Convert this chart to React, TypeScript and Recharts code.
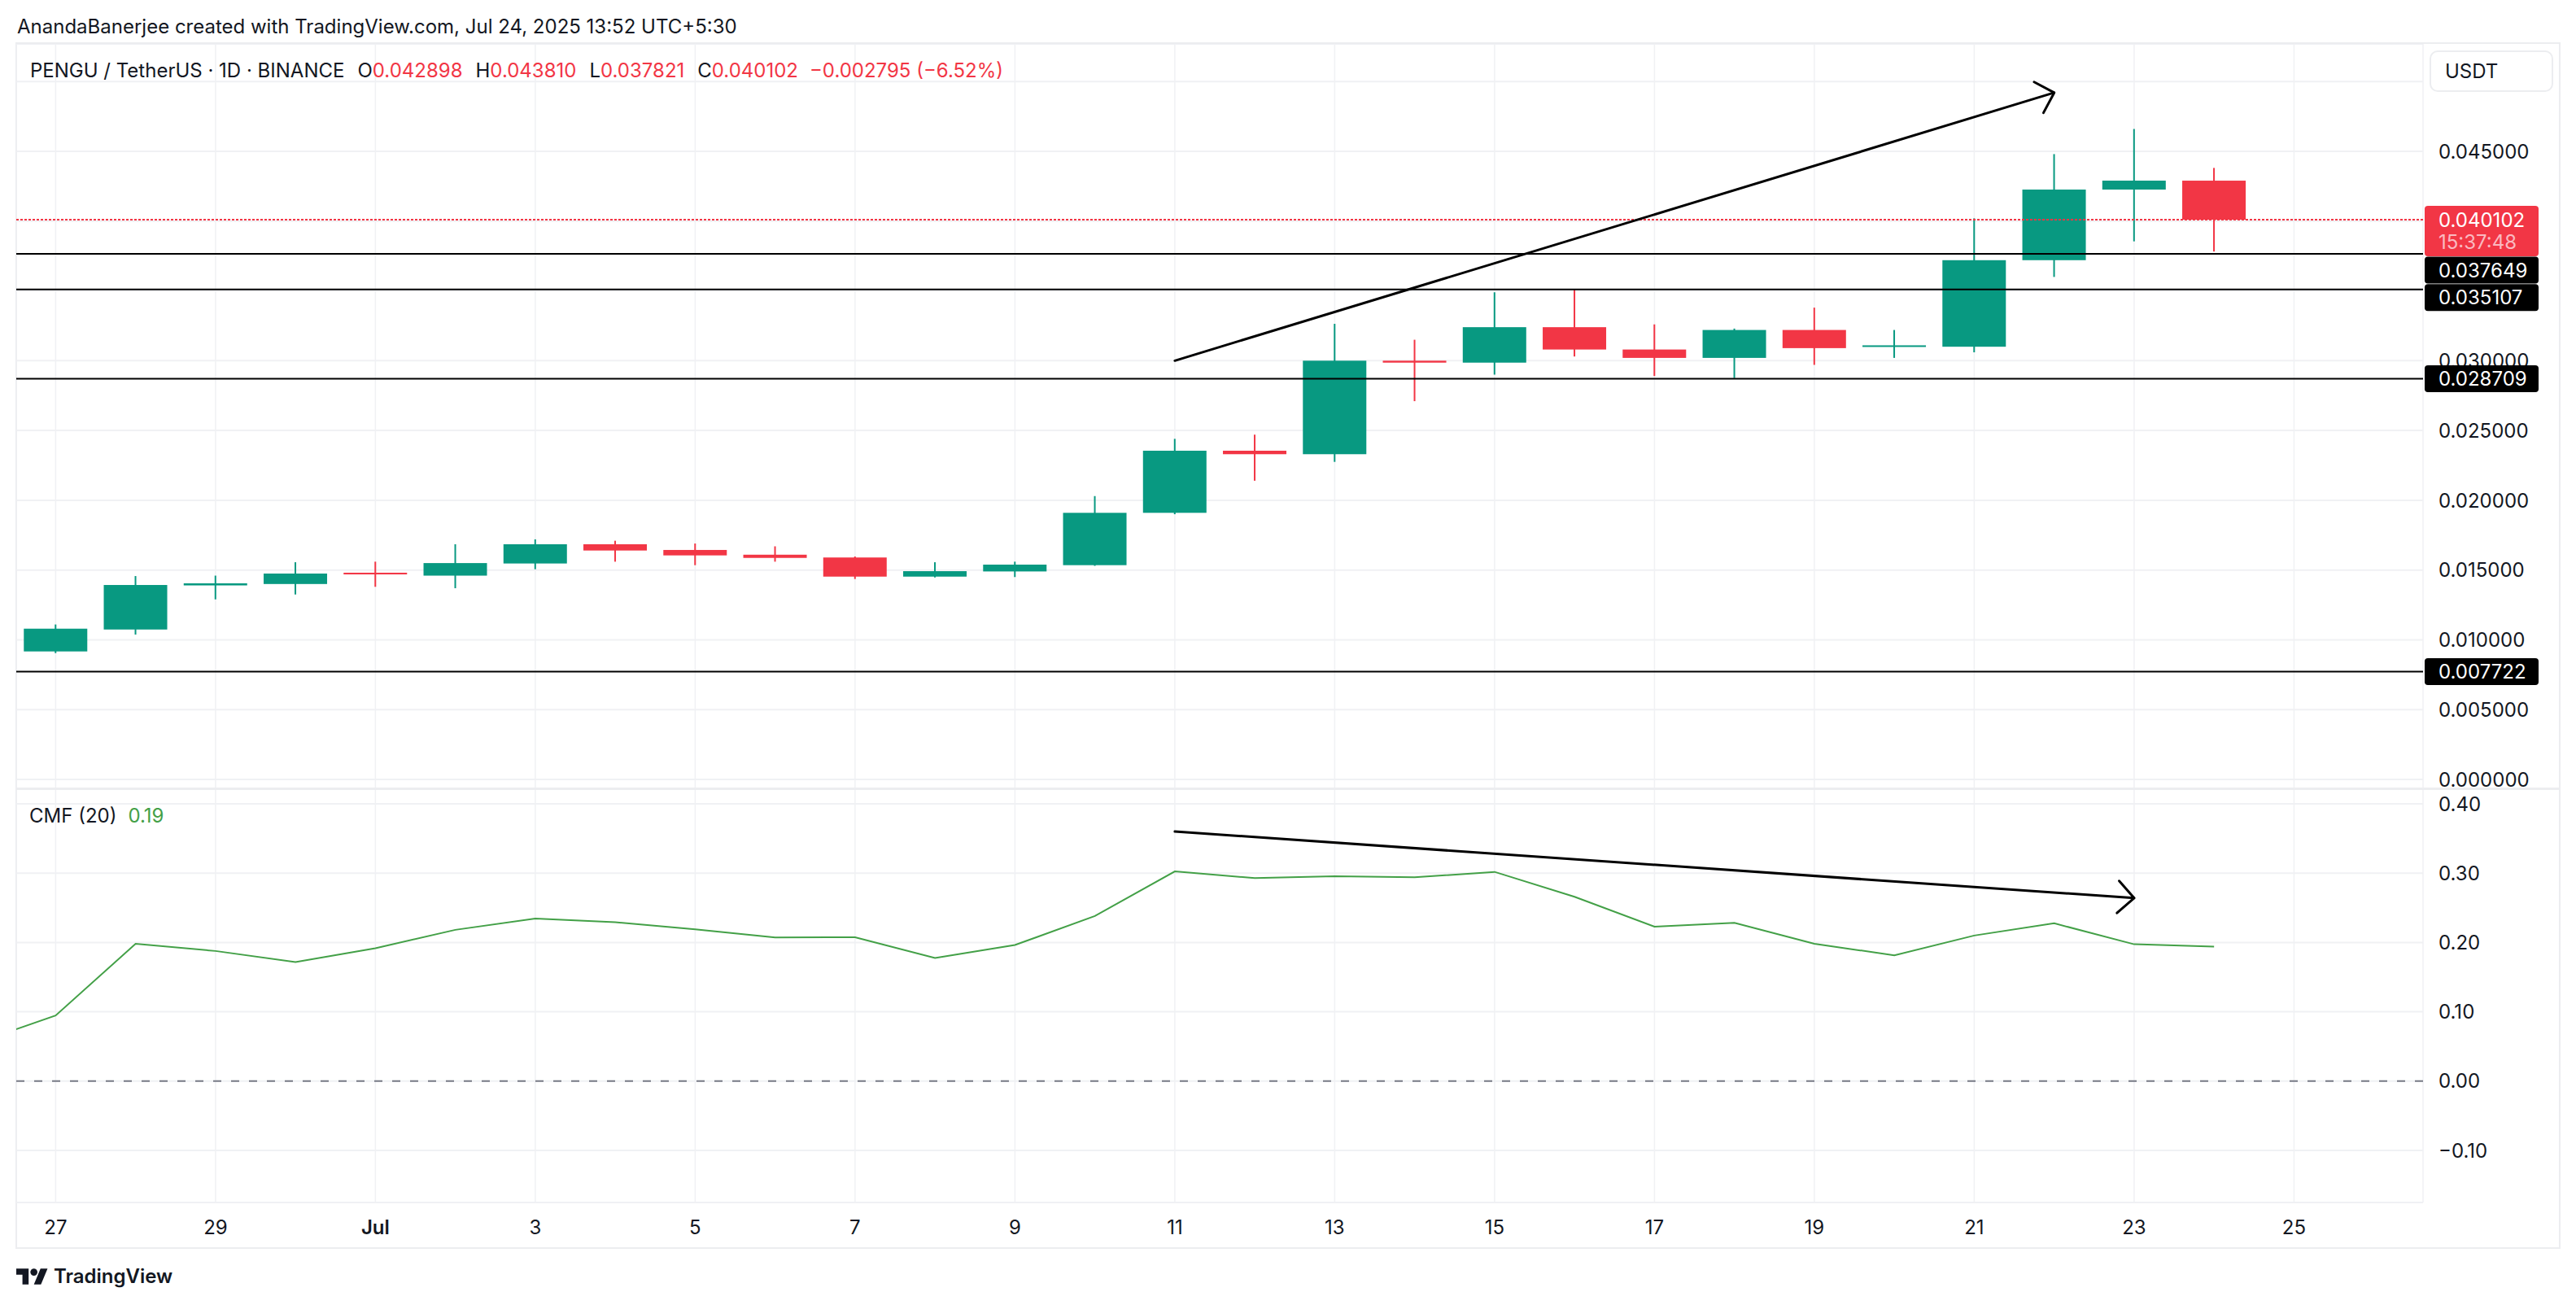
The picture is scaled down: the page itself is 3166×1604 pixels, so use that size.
import React from 'react';
import { ComposedChart, Bar, Line, XAxis, YAxis, CartesianGrid, ReferenceLine } from 'recharts';

// ---------------- data ----------------
const dates = ['Jun 26','Jun 27','Jun 28','Jun 29','Jun 30','Jul 1','Jul 2','Jul 3','Jul 4','Jul 5','Jul 6','Jul 7','Jul 8','Jul 9','Jul 10','Jul 11','Jul 12','Jul 13','Jul 14','Jul 15','Jul 16','Jul 17','Jul 18','Jul 19','Jul 20','Jul 21','Jul 22','Jul 23','Jul 24'];
const opens = [null, 0.00917, 0.01074, 0.0139, 0.0140, 0.01481, 0.0146, 0.01547, 0.01685, 0.01644, 0.0161, 0.0159, 0.01453, 0.0149, 0.01535, 0.0191, 0.02355, 0.0233, 0.0300, 0.02986, 0.0324, 0.0308, 0.0302, 0.0322, 0.0310, 0.0310, 0.0372, 0.04226, 0.042898];
const highs = [null, 0.0111, 0.01457, 0.0146, 0.01556, 0.0156, 0.01685, 0.0172, 0.0171, 0.0169, 0.0167, 0.01597, 0.01556, 0.0156, 0.0203, 0.0244, 0.0247, 0.03264, 0.0315, 0.0349, 0.0351, 0.0326, 0.0323, 0.0338, 0.0322, 0.0402, 0.0448, 0.0466, 0.04381];
const lows = [null, 0.00905, 0.01038, 0.0129, 0.01325, 0.0138, 0.0137, 0.01506, 0.0156, 0.01535, 0.0156, 0.01436, 0.01447, 0.0145, 0.0153, 0.0190, 0.0214, 0.02275, 0.0271, 0.0290, 0.0303, 0.0289, 0.02875, 0.0297, 0.0302, 0.0306, 0.0360, 0.03855, 0.037821];
const closes = [null, 0.0108, 0.01393, 0.01405, 0.01475, 0.01469, 0.0155, 0.01685, 0.0164, 0.01605, 0.01587, 0.01453, 0.01492, 0.01539, 0.0191, 0.02355, 0.0233, 0.0300, 0.02986, 0.0324, 0.0308, 0.0302, 0.0322, 0.0309, 0.0311, 0.0372, 0.04226, 0.0429, 0.040102];
const cmfValues = [0.0545, 0.0946, 0.198, 0.1877, 0.1717, 0.1916, 0.2182, 0.2346, 0.2291, 0.219, 0.2072, 0.2076, 0.1775, 0.1963, 0.2381, 0.3025, 0.2929, 0.2956, 0.294, 0.3018, 0.2659, 0.2229, 0.2284, 0.1982, 0.1814, 0.21, 0.2276, 0.1974, 0.1939];

const priceTicks = [0, 0.005, 0.01, 0.015, 0.02, 0.025, 0.03, 0.035, 0.04, 0.045, 0.05];
// tick labels hidden behind the price tags / currency box in the original
const coveredPriceTicks = [0.035, 0.04, 0.05];
const cmfTicks = [-0.1, 0, 0.1, 0.2, 0.3, 0.4];
const timeTicks = [0, 2, 4, 6, 8, 10, 12, 14, 16, 18, 20, 22, 24, 26, 28];
const timeLabels = ['27', '29', 'Jul', '3', '5', '7', '9', '11', '13', '15', '17', '19', '21', '23', '25'];
const monthLabels = ['Jul'];

const levelValues = [0.037649, 0.035107, 0.028709, 0.007722];
const lastPrice = 0.040102;
const countdown = '15:37:48';
const priceArrow = [{ x: 14, y: 0.0300 }, { x: 25, y: 0.0492 }];
const cmfArrow = [{ x: 14, y: 0.360 }, { x: 26, y: 0.264 }];

const titleText = 'AnandaBanerjee created with TradingView.com, Jul 24, 2025 13:52 UTC+5:30';
const symbolText = 'PENGU / TetherUS · 1D · BINANCE';
const ohlcLabels = ['O', 'H', 'L', 'C'];
const ohlcValues = ['0.042898', '0.043810', '0.037821', '0.040102'];
const changeText = '\u22120.002795 (\u22126.52%)';
const cmfName = 'CMF (20)';
const cmfLast = '0.19';

const tableData = dates.map((d, i) => ({
  date: d,
  day: i - 1,
  open: opens[i],
  high: highs[i],
  low: lows[i],
  close: closes[i],
  range: highs[i] == null ? null : [lows[i], highs[i]],
  cmf: cmfValues[i],
}));

// ---------------- style ----------------
const FONT = 'Inter, "Noto Sans", sans-serif';
const TEXT = '#131722';
const GREEN = '#089981';
const RED = '#F23645';
const CMF_COLOR = '#43A047';
const GRID = '#F0F1F4';
const FRAME = '#ECEDF0';
const FS = 24;

const X_DOMAIN = [-0.4926, 29.614];
const PRICE_DOMAIN = [-0.000699, 0.052693];
const CMF_DOMAIN = [-0.1751, 0.4211];
const tagNudge: Record<string, number> = { '0.037649': 20, '0.035107': 10 };

const fmtPrice = (v: number) => v.toFixed(6);
const fmtCmf = (v: number) => (v < 0 ? '\u2212' + Math.abs(v).toFixed(2) : v.toFixed(2));

const Candle = (props: any) => {
  const { x, y, width, height, payload } = props;
  if (!payload || payload.open == null) return null;
  const { open, close, high, low } = payload;
  const span = high - low;
  const k = span > 0 ? height / span : 0;
  const py = (v: number) => y + (high - v) * k;
  const color = close >= open ? GREEN : RED;
  const cx = x + width / 2;
  const top = py(Math.max(open, close));
  const bot = py(Math.min(open, close));
  const bh = Math.max(bot - top, 2);
  return (
    <g>
      <rect x={cx - 1} y={y} width={2} height={Math.max(height, 1)} fill={color} />
      <rect x={x} y={top} width={width} height={bh} fill={color} />
    </g>
  );
};

const makeYTick = (fmt: (v: number) => string, hidden: number[] = []) => (props: any) => {
  const { x, y, payload } = props;
  if (hidden.some((h) => Math.abs(h - payload.value) < 1e-9)) return <g />;
  return (
    <text x={x} y={y} dy="0.36em" textAnchor="start" fontSize={FS} fill={TEXT} fontFamily={FONT}>
      {fmt(payload.value)}
    </text>
  );
};

const XTick = (props: any) => {
  const { x, y, payload } = props;
  const idx = timeTicks.indexOf(payload.value);
  const label = idx >= 0 ? timeLabels[idx] : '';
  const bold = monthLabels.includes(label);
  return (
    <text x={x} y={y + 30} dy="0.36em" textAnchor="middle" fontSize={FS} fill={TEXT} fontFamily={FONT} fontWeight={bold ? 600 : 400}>
      {label}
    </text>
  );
};

const Arrow = (props: any) => {
  const { x1, y1, x2, y2 } = props;
  if ([x1, y1, x2, y2].some((v) => v == null || isNaN(v))) return null;
  const ang = Math.atan2(y2 - y1, x2 - x1);
  const L = 28;
  const s = Math.PI / 4;
  const a1 = ang + Math.PI - s;
  const a2 = ang + Math.PI + s;
  return (
    <g>
      <line x1={x1} y1={y1} x2={x2} y2={y2} stroke="#000" strokeWidth={3} strokeLinecap="round" />
      <polyline
        points={`${x2 + L * Math.cos(a1)},${y2 + L * Math.sin(a1)} ${x2},${y2} ${x2 + L * Math.cos(a2)},${y2 + L * Math.sin(a2)}`}
        fill="none" stroke="#000" strokeWidth={3} strokeLinecap="round" strokeLinejoin="round"
      />
    </g>
  );
};

const LevelTag = (value: number) => (props: any) => {
  const vb = props.viewBox || {};
  const x = vb.x + vb.width + 2;
  const cy = vb.y + (tagNudge[fmtPrice(value)] || 0);
  return (
    <g>
      <rect x={x} y={cy - 16.5} width={140} height={33} rx={4} fill="#000" />
      <text x={x + 17} y={cy} dy="0.36em" fontSize={FS} fill="#fff" fontFamily={FONT}>{fmtPrice(value)}</text>
    </g>
  );
};

const LastTag = (props: any) => {
  const vb = props.viewBox || {};
  const x = vb.x + vb.width + 2;
  const ly = vb.y;
  return (
    <g>
      <rect x={x} y={ly - 17} width={140} height={62} rx={4} fill={RED} />
      <text x={x + 17} y={ly} dy="0.36em" fontSize={FS} fill="#fff" fontFamily={FONT}>{fmtPrice(lastPrice)}</text>
      <text x={x + 17} y={ly + 27} dy="0.36em" fontSize={FS} fill="#FAB9C0" fontFamily={FONT}>{countdown}</text>
    </g>
  );
};

const abs = (l: number, t: number, extra: React.CSSProperties = {}): React.CSSProperties => ({ position: 'absolute', left: l, top: t, ...extra });
const chartMargin = { top: 0, right: 0, bottom: 0, left: 0 };

export default function App() {
  return (
    <div style={{ position: 'absolute', left: 0, top: 0, width: 3166, height: 1604, background: '#fff', fontFamily: FONT, color: TEXT, overflow: 'hidden' }}>
      <div style={abs(21, 18, { fontSize: FS, lineHeight: '30px', whiteSpace: 'nowrap' })}>{titleText}</div>

      <div style={abs(19, 52, { width: 3128, height: 1483, border: `2px solid ${FRAME}`, boxSizing: 'border-box' })} />

      {/* price pane: grid, axis, candles */}
      <div style={abs(20, 54)}>
        <ComposedChart width={3126} height={916} data={tableData} margin={chartMargin}>
          <CartesianGrid stroke={GRID} strokeWidth={2} vertical={false} />
          <CartesianGrid stroke={GRID} strokeWidth={1.5} horizontal={false} />
          <XAxis type="number" dataKey="day" domain={X_DOMAIN} allowDataOverflow ticks={timeTicks} hide />
          <YAxis orientation="right" width={168} domain={PRICE_DOMAIN} allowDataOverflow ticks={priceTicks} interval={0}
            tickSize={0} tickMargin={19} axisLine={false} tickLine={false} tick={makeYTick(fmtPrice, coveredPriceTicks)} />
          <Bar dataKey="range" barSize={78} isAnimationActive={false} shape={(p: any) => <Candle {...p} />} />
        </ComposedChart>
      </div>

      {/* price pane overlay: levels, last price, trend arrow */}
      <div style={abs(20, 54, { pointerEvents: 'none' })}>
        <ComposedChart width={3126} height={916} data={tableData} margin={chartMargin}>
          <XAxis type="number" dataKey="day" domain={X_DOMAIN} allowDataOverflow ticks={timeTicks} hide />
          <YAxis orientation="right" width={168} domain={PRICE_DOMAIN} allowDataOverflow ticks={priceTicks}
            axisLine={false} tickLine={false} tick={false} />
          <ReferenceLine y={lastPrice} stroke={RED} strokeWidth={2} strokeDasharray="3 2" label={LastTag} />
          {levelValues.map((v) => (
            <ReferenceLine key={v} y={v} stroke="#000" strokeWidth={2} label={LevelTag(v)} />
          ))}
          <ReferenceLine segment={priceArrow} shape={(p: any) => <Arrow {...p} />} />
        </ComposedChart>
      </div>

      {/* CMF pane */}
      <div style={abs(20, 970)}>
        <ComposedChart width={3126} height={564} data={tableData} margin={chartMargin}>
          <CartesianGrid stroke={GRID} strokeWidth={2} vertical={false} />
          <CartesianGrid stroke={GRID} strokeWidth={1.5} horizontal={false} />
          <XAxis type="number" dataKey="day" domain={X_DOMAIN} allowDataOverflow ticks={timeTicks} interval={0}
            height={56} tickSize={0} tickMargin={0} axisLine={false} tickLine={false} tick={XTick} />
          <YAxis orientation="right" width={168} domain={CMF_DOMAIN} allowDataOverflow ticks={cmfTicks} interval={0}
            tickSize={0} tickMargin={19} axisLine={false} tickLine={false} tick={makeYTick(fmtCmf)} />
          <ReferenceLine y={0} stroke="#787B86" strokeWidth={2} strokeDasharray="10 12" />
          <Line type="linear" dataKey="cmf" stroke={CMF_COLOR} strokeWidth={2} dot={false} isAnimationActive={false} />
          <ReferenceLine segment={cmfArrow} shape={(p: any) => <Arrow {...p} />} />
        </ComposedChart>
      </div>

      <div style={abs(20, 968, { width: 3126, height: 3, background: FRAME })} />

      <div style={abs(37, 72, { fontSize: FS, lineHeight: '30px', whiteSpace: 'nowrap', display: 'flex' })}>
        <span>{symbolText}</span>
        {ohlcLabels.map((l, i) => (
          <span key={l} style={{ marginLeft: 16 }}>
            <span>{l}</span>
            <span style={{ color: RED }}>{ohlcValues[i]}</span>
          </span>
        ))}
        <span style={{ marginLeft: 14, color: RED }}>{changeText}</span>
      </div>

      <div style={abs(36, 988, { fontSize: FS, lineHeight: '30px', whiteSpace: 'nowrap' })}>
        <span>{cmfName}</span>
        <span style={{ marginLeft: 14, color: CMF_COLOR }}>{cmfLast}</span>
      </div>

      <div style={abs(2986, 62, { width: 152, height: 51, border: `2px solid ${FRAME}`, borderRadius: 10, background: '#fff', boxSizing: 'border-box', fontSize: FS, lineHeight: '47px', paddingLeft: 17 })}>
        USDT
      </div>

      <div style={abs(20, 1555, { display: 'flex', alignItems: 'center' })}>
        <svg width={39} height={20} viewBox="0 4 36 18">
          <path d="M14 22H7V11H0V4h14v18z" fill="#131722" />
          <circle cx={20} cy={8} r={4} fill="#131722" />
          <path d="M28 22h-8l7.5-18h8L28 22z" fill="#131722" />
        </svg>
        <span style={{ marginLeft: 7, fontSize: FS, fontWeight: 600, lineHeight: '28px' }}>TradingView</span>
      </div>
    </div>
  );
}
